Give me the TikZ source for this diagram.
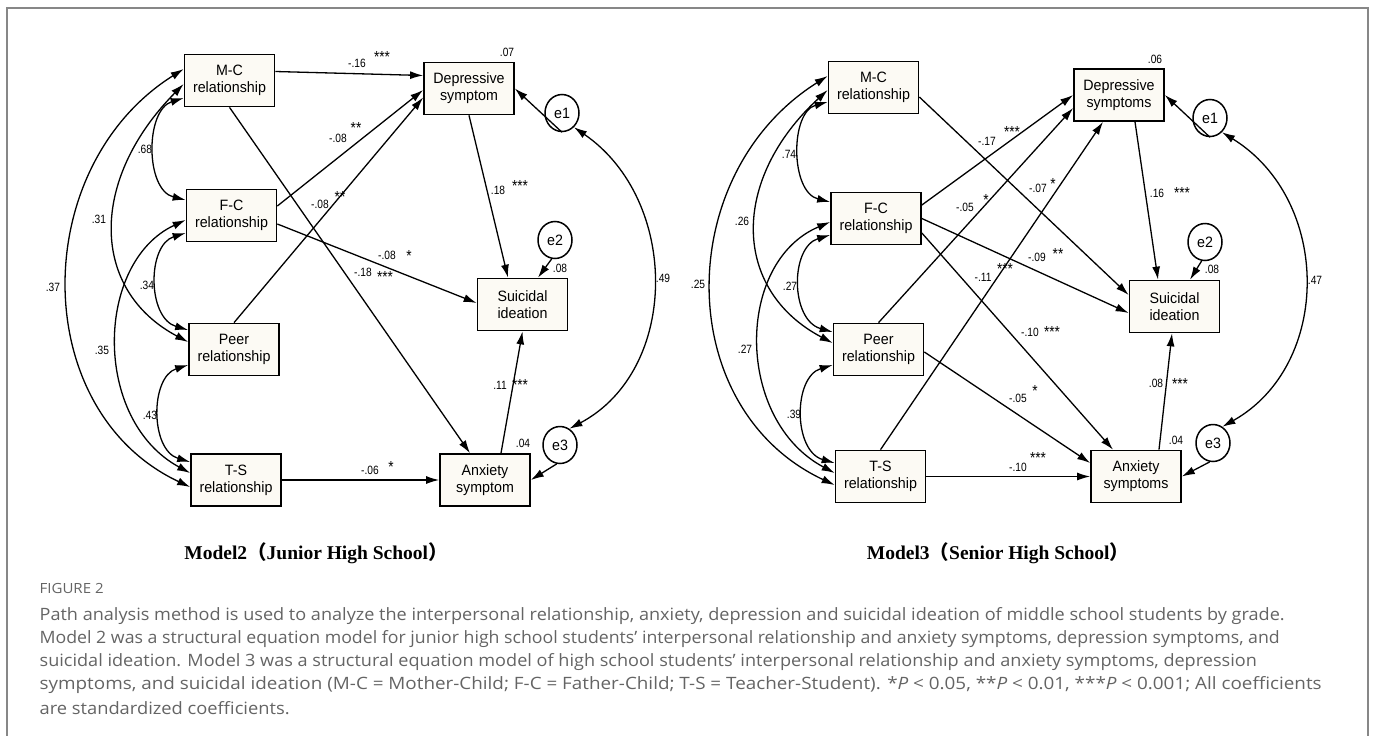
\documentclass[tikz,border=0pt]{standalone}
\usepackage{fontspec}
\usepackage{graphicx}
\setmainfont{Liberation Sans}
\newfontfamily\pathfont[FakeStretch=0.95]{Liberation Sans}
\newfontfamily\coeffont[FakeStretch=0.85]{Liberation Sans}
\newfontfamily\titlefont{Liberation Serif}
\newfontfamily\cjk{Noto Sans CJK SC}
\newfontfamily\capfont{Open Sans}
\usetikzlibrary{arrows.meta,shapes}
\definecolor{boxfill}{RGB}{252,250,244}
\definecolor{capgray}{RGB}{100,100,100}
\definecolor{framegray}{RGB}{135,135,135}
\newcommand{\capline}[2]{\resizebox{#1pt}{\height}{#2}}

\begin{document}
\begin{tikzpicture}[x=1pt, y=-1pt, >={Latex[length=13pt,width=8pt]}, line width=1.3pt]
      \tikzstyle{every node}=[font=\coeffont\fontsize{12}{14}\selectfont, inner sep=1pt]
      \tikzstyle{var}=[draw, line width=1.7pt, fill=boxfill, minimum width=90pt, minimum height=52pt, inner sep=0pt, align=center, font=\pathfont\fontsize{15}{17}\selectfont]
      \tikzstyle{err}=[draw, ellipse, line width=1.5pt, fill=white, minimum width=34pt, minimum height=37pt, inner sep=0pt, font=\pathfont\fontsize{15}{17}\selectfont]
      \tikzstyle{star}=[font=\coeffont\fontsize{16}{16}\selectfont, inner sep=0pt]
      \tikzstyle{captext}=[anchor=west, text=capgray, inner sep=0pt, font=\capfont\fontsize{17}{20}\selectfont]
      \useasboundingbox (0,0) rectangle (1373,736);
      \draw [framegray, line width=1.5pt] (7,8) rectangle (1368,745);

%% Model 2
\node (j_mc) at (229.5,80.5) [var] {M-C\\relationship};
  \node (j_fc) at (231.5,215.5) [var] {F-C\\relationship};
  \node (j_peer) at (234,349.5) [var] {Peer\\relationship};
  \node (j_ts) at (236,480) [var] {T-S\\relationship};
  \node (j_dep) at (469,88.5) [var] {Depressive\\symptom};
  \node (j_sui) at (522.5,304.5) [var] {Suicidal\\ideation};
  \node (j_anx) at (485,480) [var] {Anxiety\\symptom};
  \node (j_e1) at (562,113) [err] {e1};
  \node (j_e2) at (555,240) [err] {e2};
  \node (j_e3) at (560,445) [err] {e3};
  \draw [->] ([yshift=9pt]j_mc.east) -- ([yshift=13pt]j_dep.west);
  \draw [->] (j_mc.south) -- ([xshift=-15pt]j_anx.north);
  \draw [->] ([yshift=9.5pt]j_fc.east) -- ([yshift=-1.5pt]j_dep.west);
  \draw [->] ([yshift=-8.5pt]j_fc.east) -- ([yshift=1.5pt]j_sui.west);
  \draw [->] (j_peer.north) -- ([yshift=-9pt]j_dep.west);
  \draw [->] (j_dep.south) -- ([xshift=-14.5pt]j_sui.north);
  \draw [->] ([xshift=16pt]j_anx.north) -- (j_sui.south);
  \draw [->] (j_ts.east) -- (j_anx.west);
  \draw [->] (j_e1.south) -- (j_dep.east);
  \draw [->] (j_e2.-100) -- ([xshift=15.5pt]j_sui.north);
  \draw [->] (j_e3.-100) -- (j_anx.east);
  \draw [<->] (j_e1.-50) ..controls (680,200) and (680,370) .. (j_e3.60);
  \draw [<->] ([yshift=-17.5pt]j_mc.west) ..controls (145,110) and (145,190) .. ([yshift=15.5pt]j_fc.west);
  \draw [<->] ([yshift=-3.5pt]j_mc.west) ..controls (89,180) and (90,290) .. ([yshift=7.5pt]j_peer.west);
  \draw [<->] ([yshift=11.5pt]j_mc.west) ..controls (28,167) and (28,411) .. ([yshift=-7pt]j_ts.west);
  \draw [<->] ([yshift=-17.5pt]j_fc.west) ..controls (147,245) and (147,318) .. ([yshift=19.5pt]j_peer.west);
  \draw [<->] ([yshift=-4.5pt]j_fc.west) ..controls (95,262) and (92,420) .. ([yshift=7pt]j_ts.west);
  \draw [<->] ([yshift=-15.5pt]j_peer.west) ..controls (150,377) and (150,450) .. ([yshift=18pt]j_ts.west);
  \node (j_l68) at (145,149) {.68};
  \node (j_l31) at (99,219) {.31};
  \node (j_l37) at (53,287) {.37};
  \node (j_l34) at (147,285) {.34};
  \node (j_l35) at (102,350) {.35};
  \node (j_l43) at (150,415) {.43};
  \node (j_l16) at (357,63) {-.16};
  \node (j_s16) at (382,57) [star] {***};
  \node (j_l08a) at (338,138) {-.08};
  \node (j_s08a) at (356,128) [star] {**};
  \node (j_l08b) at (320,204) {-.08};
  \node (j_s08b) at (340,197) [star] {**};
  \node (j_l18) at (498,190) {.18};
  \node (j_s18) at (520,186) [star] {***};
  \node (j_l08c) at (387,255) {-.08};
  \node (j_s08c) at (409,256) [star] {*};
  \node (j_l18b) at (363,272) {-.18};
  \node (j_s18b) at (385,277) [star] {***};
  \node (j_l11) at (500,385) {.11};
  \node (j_s11) at (520,385) [star] {***};
  \node (j_l06) at (370,470) {-.06};
  \node (j_s06) at (391,467) [star] {*};
  \node (j_r07) at (507,52) {.07};
  \node (j_r08) at (560,268) {.08};
  \node (j_r04) at (523,443) {.04};
  \node (j_l49) at (663,278) {.49};
  \node (j_title) at (316,553) {\titlefont\bfseries\fontsize{19.5}{21}\selectfont Model2{\cjk （}Junior High School{\cjk ）}};
%

%% Model 3
\node (s_mc) at (873.5,87.5) [var] {M-C\\relationship};
  \node (s_fc) at (876,218.5) [var] {F-C\\relationship};
  \node (s_peer) at (878.5,349.5) [var] {Peer\\relationship};
  \node (s_ts) at (880.5,476.5) [var] {T-S\\relationship};
  \node (s_dep) at (1119,95) [var] {Depressive\\symptoms};
  \node (s_sui) at (1174.5,306.5) [var] {Suicidal\\ideation};
  \node (s_anx) at (1136,476.5) [var] {Anxiety\\symptoms};
  \node (s_e1) at (1210,118) [err] {e1};
  \node (s_e2) at (1205,242) [err] {e2};
  \node (s_e3) at (1213,443) [err] {e3};
  \draw [->] ([yshift=-9.5pt]s_mc.east) -- ([yshift=11.5pt]s_sui.west);
  \draw [->] ([yshift=13.5pt]s_fc.east) -- (s_dep.west);
  \draw [->] (s_fc.east) -- ([yshift=-6.5pt]s_sui.west);
  \draw [->] ([yshift=-14.5pt]s_fc.east) -- ([xshift=-23pt]s_anx.north);
  \draw [->] (s_peer.north) -- ([yshift=-13pt]s_dep.west);
  \draw [->] ([yshift=-2.5pt]s_peer.east) -- ([yshift=13.5pt]s_anx.west);
  \draw [->] (s_ts.north) -- ([xshift=-16pt]s_dep.south);
  \draw [->] (s_ts.east) -- (s_anx.west);
  \draw [->] ([xshift=16pt]s_dep.south) -- ([xshift=-16.5pt]s_sui.north);
  \draw [->] ([xshift=23pt]s_anx.north) -- ([xshift=-2.5pt]s_sui.south);
  \draw [->] (s_e1.south) -- (s_dep.east);
  \draw [->] (s_e2.-100) -- ([xshift=15.5pt]s_sui.north);
  \draw [->] (s_e3.-100) -- (s_anx.east);
  \draw [<->] (s_e1.-50) ..controls (1332,200) and (1332,365) .. (s_e3.60);
  \draw [<->] ([yshift=-14.5pt]s_mc.west) ..controls (790,112) and (790,192) .. ([yshift=16.5pt]s_fc.west);
  \draw [<->] ([yshift=-2.5pt]s_mc.west) ..controls (730,180) and (732,290) .. ([yshift=6.5pt]s_peer.west);
  \draw [<->] ([yshift=11.5pt]s_mc.west) ..controls (672,174) and (672,409) .. ([yshift=-8.5pt]s_ts.west);
  \draw [<->] ([yshift=-16.5pt]s_fc.west) ..controls (790,247) and (790,320) .. ([yshift=17.5pt]s_peer.west);
  \draw [<->] ([yshift=-3.5pt]s_fc.west) ..controls (735,262) and (735,420) .. ([yshift=3.5pt]s_ts.west);
  \draw [<->] ([yshift=-15.5pt]s_peer.west) ..controls (793,377) and (793,451) .. ([yshift=13.5pt]s_ts.west);
  \node (s_l74) at (789,154) {.74};
  \node (s_l26) at (742,221) {.26};
  \node (s_l25) at (698,284) {.25};
  \node (s_l27a) at (790,286) {.27};
  \node (s_l27b) at (745,349) {.27};
  \node (s_l39) at (794,414) {.39};
  \node (s_l17) at (987,141) {-.17};
  \node (s_s17) at (1012,132) [star] {***};
  \node (s_l07) at (1038,188) {-.07};
  \node (s_s07) at (1053,184) [star] {*};
  \node (s_l05) at (965,207) {-.05};
  \node (s_s05) at (986,200) [star] {*};
  \node (s_l16) at (1157,193) {.16};
  \node (s_s16) at (1182,193) [star] {***};
  \node (s_l09) at (1037,257) {-.09};
  \node (s_s09) at (1058,254) [star] {**};
  \node (s_l11) at (983,277) {-.11};
  \node (s_s11) at (1005,269) [star] {***};
  \node (s_l10a) at (1030,332) {-.10};
  \node (s_s10a) at (1052,332) [star] {***};
  \node (s_l08) at (1156,383) {.08};
  \node (s_s08) at (1180,384) [star] {***};
  \node (s_l05b) at (1018,398) {-.05};
  \node (s_s05b) at (1035,391) [star] {*};
  \node (s_l10b) at (1018,467) {-.10};
  \node (s_s10b) at (1038,458) [star] {***};
  \node (s_r06) at (1155,59) {.06};
  \node (s_r08) at (1212,269) {.08};
  \node (s_r04) at (1176,440) {.04};
  \node (s_l47) at (1315,280) {.47};
  \node (s_title) at (998,553) {\titlefont\bfseries\fontsize{19.5}{21}\selectfont Model3{\cjk （}Senior High School{\cjk ）}};
%

%% caption
\node (cap_head) at (39,588) [captext, font=\capfont\fontsize{14}{16}\selectfont] {\capline{64}{FIGURE 2}};
  \node (cap_1) at (39,616) [captext] {\capline{1245}{Path analysis method is used to analyze the interpersonal relationship, anxiety, depression and suicidal ideation of middle school students by grade.}};
  \node (cap_2) at (39,639) [captext] {\capline{1240}{Model 2 was a structural equation model for junior high school students’ interpersonal relationship and anxiety symptoms, depression symptoms, and}};
  \node (cap_3) at (39,662) [captext] {\capline{1217}{suicidal ideation. Model 3 was a structural equation model of high school students’ interpersonal relationship and anxiety symptoms, depression}};
  \node (cap_4) at (39,685) [captext] {\capline{1282}{symptoms, and suicidal ideation (M-C = Mother-Child; F-C = Father-Child; T-S = Teacher-Student). *\textit{P} < 0.05, **\textit{P} < 0.01, ***\textit{P} < 0.001; All coefficients}};
  \node (cap_5) at (39,708) [captext] {\capline{250}{are standardized coefficients.}};
%
    \end{tikzpicture}
\end{document}
